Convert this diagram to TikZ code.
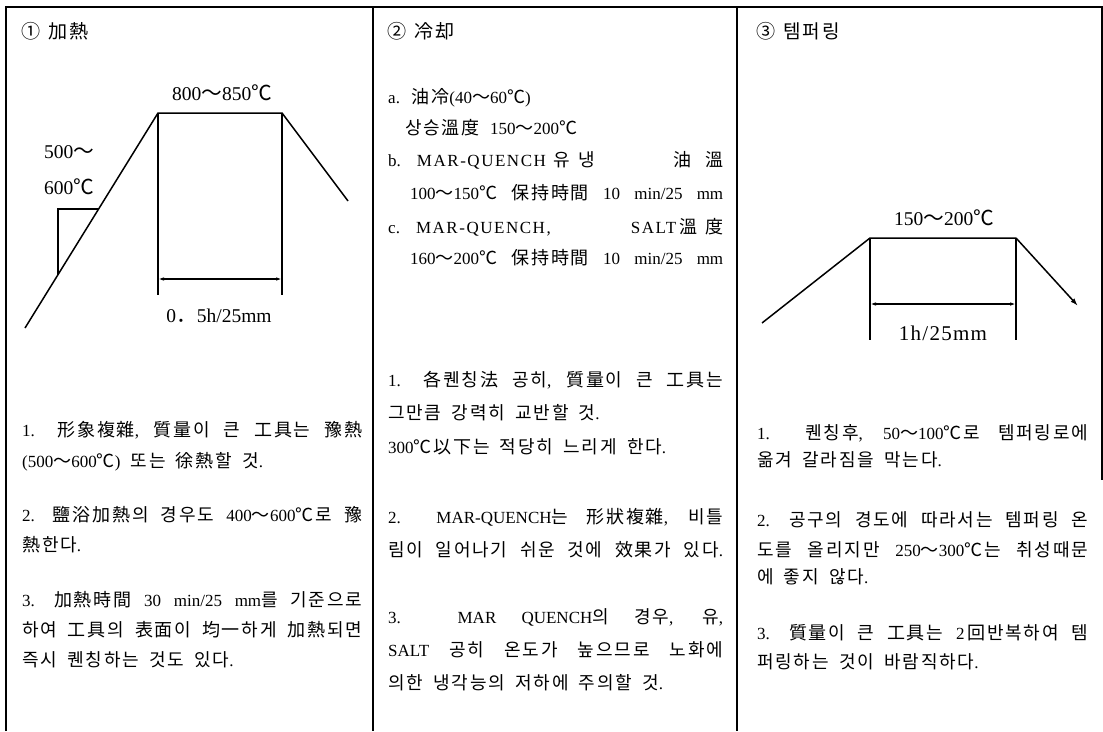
\documentclass[tikz,border=0pt]{standalone}
\usepackage{fontspec}
\usetikzlibrary{arrows.meta}
\setmainfont{Liberation Serif}
\newfontfamily\cjkfont{Noto Sans CJK KR}[Scale=1.06,LetterSpace=10]
\newfontfamily\lsfont{Liberation Serif}[LetterSpace=9]
\newfontfamily\lsbfont{Liberation Serif}[LetterSpace=6]
\XeTeXinterchartokenstate=1
\newXeTeXintercharclass\cjkclass
\newcount\cjkc
\def\setcjkrange#1#2{\cjkc=#1\relax\loop\XeTeXcharclass\cjkc=\cjkclass\relax\ifnum\cjkc<#2\relax\advance\cjkc by 1\relax\repeat}
\setcjkrange{"AC00}{"D7A3}
\setcjkrange{"4E00}{"9FFF}
\setcjkrange{"3000}{"303F}
\setcjkrange{"3130}{"318F}
\setcjkrange{"FF00}{"FFEF}
\setcjkrange{"2460}{"24FF}
\XeTeXcharclass"2103=\cjkclass\relax
\XeTeXinterchartoks 0 \cjkclass = {\begingroup\cjkfont}
\XeTeXinterchartoks 4095 \cjkclass = {\begingroup\cjkfont}
\XeTeXinterchartoks \cjkclass 0 = {\endgroup}
\XeTeXinterchartoks \cjkclass 4095 = {\endgroup}
\newcommand\bodyfs{\fontsize{17}{20}\selectfont\spaceskip=0.6em plus 1em minus 0.42em\relax}
\newcommand\headfs{\fontsize{18}{22}\selectfont\spaceskip=0.45em\relax}
\newcommand\lblfs{\fontsize{19.5}{22}\selectfont}
\newcommand\jl[2]{\makebox[#1pt][s]{#2}}
\newcommand\lsp[1]{{\lsfont #1}}
\tikzset{
  border/.style={line width=1.1pt},
  curve/.style={line width=1.5pt},
  thick curve/.style={line width=2pt},
  thin curve/.style={line width=1.1pt},
  dim/.style={line width=1.3pt,{Latex[length=6pt,width=3.5pt]}-{Latex[length=6pt,width=3.5pt]}},
  txt/.style={anchor=base west,inner sep=0pt,font=\bodyfs},
  head/.style={anchor=base west,inner sep=0pt,font=\headfs},
  lbl/.style={inner sep=0pt,font=\lblfs},
}
\begin{document}
\begin{tikzpicture}[x=1pt,y=-1pt]
\useasboundingbox (0,0) rectangle (1103,731);
% table rules
\draw[border] (6,731) -- (6,7) -- (1102,7) -- (1102,480);
\draw[border] (373,7) -- (373,731);
\draw[border] (737,7) -- (737,731);
% headers
\node[head] (h1) at (21,38) {① 加熱};
\node[head] (h2) at (387,38) {② 冷却};
\node[head] (h3) at (756,38) {③ 템퍼링};
% diagram 1
\coordinate (p0) at (25,328);
\coordinate (p1) at (158,113);
\coordinate (p2) at (282,113);
\coordinate (p3) at (348,201);
\coordinate (p1b) at (158,295);
\coordinate (p2b) at (282,295);
\coordinate (d1l) at (158,279);
\coordinate (d1r) at (282,279);
\coordinate (q0) at (58,275);
\coordinate (q1) at (58,209);
\coordinate (q2) at (98.6,209);
\draw[curve] (p0) -- (p1) -- (p2) -- (p3);
\draw[curve] (p1) -- (p1b);
\draw[thick curve] (p2) -- (p2b);
\draw[dim] (d1l) -- (d1r);
\draw[thin curve] (q0) -- (q1) -- (q2);
\node[lbl] (t800) at (222,93) {800～850℃};
\node[lbl,anchor=west] (t500) at (44,152) {500～};
\node[lbl,anchor=west] (t600) at (44,187) {600℃};
\node[lbl] (t05) at (219,316) {0．5h/25mm};
% diagram 3
\coordinate (r0) at (762,323);
\coordinate (r1) at (870,238);
\coordinate (r2) at (1016,238);
\coordinate (r3) at (1078,306);
\coordinate (r1b) at (870,340);
\coordinate (r2b) at (1016,340);
\coordinate (d3l) at (870,304);
\coordinate (d3r) at (1016,304);
\draw[curve] (r0) -- (r1) -- (r2);
\draw[curve,-{Latex[length=8pt,width=5pt]}] (r2) -- (r3);
\draw[thin curve] (r1) -- (r1b);
\draw[thick curve] (r2) -- (r2b);
\draw[dim] (d3l) -- (d3r);
\node[lbl] (t150) at (944,218) {150～200℃};
\node[lbl] (t1h) at (943,333) {\fontsize{21}{24}\lsbfont 1h/25mm};
% column 1 text
\node[txt] (c1a) at (22,436) {\jl{340}{1. 形象複雜, 質量이 큰 工具는 豫熱}};
\node[txt] (c1b) at (22,467) {(500～600℃) 또는 徐熱할 것.};
\node[txt] (c1c) at (22,521) {\jl{340}{2. 鹽浴加熱의 경우도 400～600℃로 豫}};
\node[txt] (c1d) at (22,551) {熱한다.};
\node[txt] (c1e) at (22,606) {\jl{340}{3. 加熱時間 30 min/25 mm를 기준으로}};
\node[txt] (c1f) at (22,636) {\jl{340}{하여 工具의 表面이 均一하게 加熱되면}};
\node[txt] (c1g) at (22,666) {즉시 퀜칭하는 것도 있다.};
% column 2 text
\node[txt] (c2a) at (388,103) {a. 油冷(40～60℃)};
\node[txt] (c2b) at (405,134) {상승溫度 150～200℃};
\node[txt] (c2c) at (388,166) {\jl{335}{b.\hspace{16pt}\lsp{MAR-QUENCH}\hspace{8pt}유\hspace{8pt}냉\hspace{20pt plus 1fil}油\hspace{14pt}溫}};
\node[txt] (c2d) at (410,199) {\jl{313}{100～150℃ 保持時間 10 min/25 mm}};
\node[txt] (c2e) at (388,233) {\jl{335}{c.\hspace{16pt}\lsp{MAR-QUENCH,}\hspace{20pt plus 1fil}\lsp{SALT}\,溫\hspace{8pt}度}};
\node[txt] (c2f) at (410,264) {\jl{313}{160～200℃ 保持時間 10 min/25 mm}};
\node[txt] (c2g) at (388,386) {\jl{335}{1. 各퀜칭法 공히, 質量이 큰 工具는}};
\node[txt] (c2h) at (388,419) {그만큼 강력히 교반할 것.};
\node[txt] (c2i) at (388,453) {300℃以下는 적당히 느리게 한다.};
\node[txt] (c2j) at (388,523) {\jl{335}{2. MAR-QUENCH는 形狀複雜, 비틀}};
\node[txt] (c2k) at (388,556) {\jl{335}{림이 일어나기 쉬운 것에 效果가 있다.}};
\node[txt] (c2l) at (388,623) {\jl{335}{3. MAR QUENCH의 경우, 유,}};
\node[txt] (c2m) at (388,656) {\jl{335}{SALT 공히 온도가 높으므로 노화에}};
\node[txt] (c2n) at (388,689) {의한 냉각능의 저하에 주의할 것.};
% column 3 text
\node[txt] (c3a) at (757,439) {\jl{331}{1. 퀜칭후, 50～100℃로 템퍼링로에}};
\node[txt] (c3b) at (757,466) {옮겨 갈라짐을 막는다.};
\node[txt] (c3c) at (757,526) {\jl{331}{2. 공구의 경도에 따라서는 템퍼링 온}};
\node[txt] (c3d) at (757,556) {\jl{331}{도를 올리지만 250～300℃는 취성때문}};
\node[txt] (c3e) at (757,583) {에 좋지 않다.};
\node[txt] (c3f) at (757,639) {\jl{331}{3. 質量이 큰 工具는 2\,回반복하여 템}};
\node[txt] (c3g) at (757,668) {퍼링하는 것이 바람직하다.};
\end{tikzpicture}
\end{document}
